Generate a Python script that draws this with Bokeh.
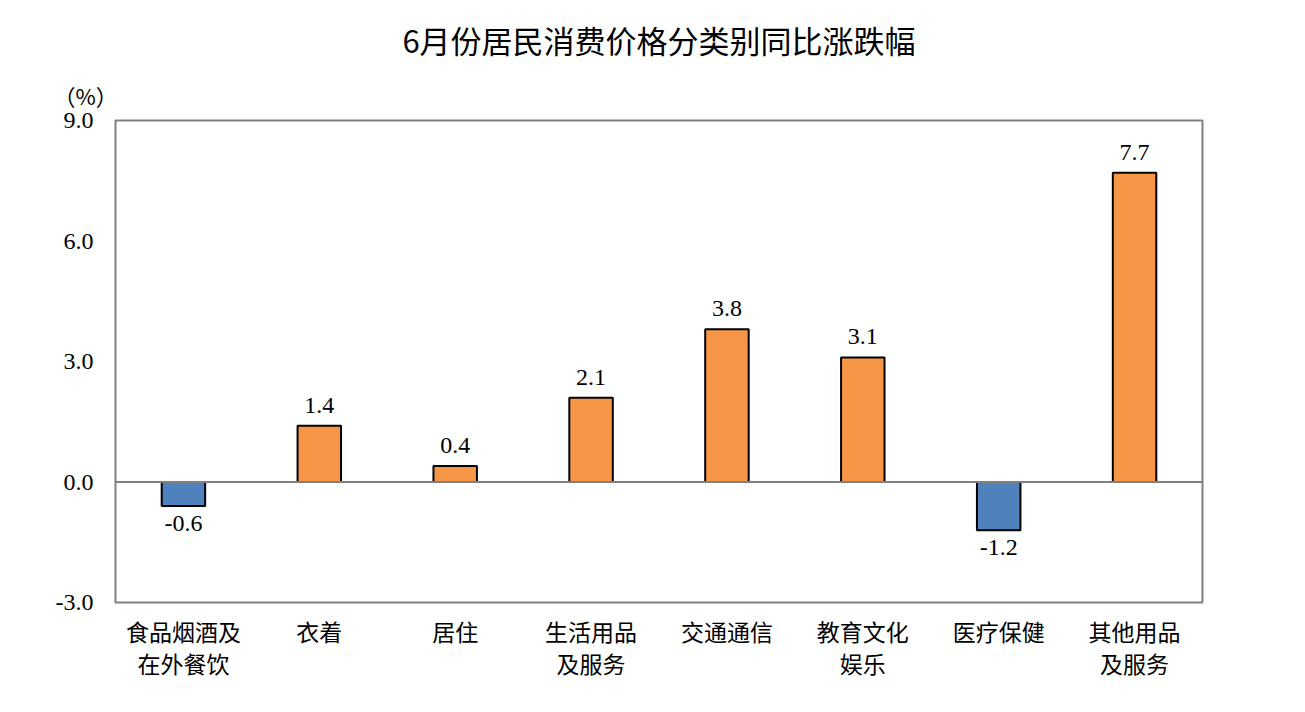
from bokeh.plotting import figure
from bokeh.models import ColumnDataSource, FactorRange, Range1d, FixedTicker, Span, Title, NumeralTickFormatter
from bokeh.core.properties import value
from bokeh.embed import file_html
from bokeh.resources import INLINE

categories = ["食品烟酒及\n在外餐饮", "衣着", "居住", "生活用品\n及服务", "交通通信", "教育文化\n娱乐", "医疗保健", "其他用品\n及服务"]
values = [-0.6, 1.4, 0.4, 2.1, 3.8, 3.1, -1.2, 7.7]
y_ticks = [-3.0, 0.0, 3.0, 6.0, 9.0]

ORANGE = "#F79646"
BLUE = "#4F81BD"
colors = [ORANGE if v >= 0 else BLUE for v in values]

p = figure(width=1305, height=712, x_range=FactorRange(*categories, range_padding=0),
           y_range=Range1d(-3, 9), output_backend="svg", toolbar_location=None, title=None,
           min_border_left=115, min_border_right=103, min_border_top=120, min_border_bottom=110)

unit = Title(text="（%）", align="left", offset=-62, standoff=19,
             text_font="Noto Sans CJK SC", text_font_size="22px", text_font_style="normal",
             text_color="black")
p.add_layout(unit, "above")
main = Title(text="6月份居民消费价格分类别同比涨跌幅", align="center", offset=0, standoff=12,
             text_font="Noto Sans CJK SC", text_font_size="31px", text_font_style="normal",
             text_color="black")
p.add_layout(main, "above")

src = ColumnDataSource(dict(cat=categories, val=values, color=colors))
p.vbar(x="cat", top="val", bottom=0, width=0.32, source=src, fill_color="color",
       line_color="black", line_width=2)

pos = ColumnDataSource(dict(cat=[c for c, v in zip(categories, values) if v >= 0],
                            val=[v for v in values if v >= 0],
                            label=["%.1f" % v for v in values if v >= 0]))
neg = ColumnDataSource(dict(cat=[c for c, v in zip(categories, values) if v < 0],
                            val=[v for v in values if v < 0],
                            label=["%.1f" % v for v in values if v < 0]))
p.text(x="cat", y="val", text="label", source=pos, text_align="center", text_baseline="bottom",
       y_offset=-13, text_font=value("Liberation Serif"), text_font_size="24px", text_color="black")
p.text(x="cat", y="val", text="label", source=neg, text_align="center", text_baseline="top",
       y_offset=10, text_font=value("Liberation Serif"), text_font_size="24px", text_color="black")

p.add_layout(Span(location=0, dimension="width", line_color="#808080", line_width=2))

p.xgrid.grid_line_color = None
p.ygrid.grid_line_color = None
p.outline_line_color = "#808080"
p.outline_line_width = 2

p.yaxis.ticker = FixedTicker(ticks=y_ticks)
p.yaxis.formatter = NumeralTickFormatter(format="0.0")
p.yaxis.major_label_text_font = "Liberation Serif"
p.yaxis.major_label_text_font_size = "24px"
p.yaxis.major_label_text_color = "black"
p.yaxis.axis_line_color = None
p.yaxis.major_tick_line_color = None
p.yaxis.minor_tick_line_color = None
p.yaxis.major_label_standoff = 16

p.xaxis.major_label_text_font = "Noto Sans CJK SC"
p.xaxis.major_label_text_font_size = "23px"
p.xaxis.major_label_text_line_height = 0.95
p.xaxis.major_label_text_color = "black"
p.xaxis.axis_line_color = None
p.xaxis.major_tick_line_color = None
p.xaxis.minor_tick_line_color = None
p.xaxis.major_label_standoff = 5

open("out.html", "w").write(file_html(p, INLINE))
